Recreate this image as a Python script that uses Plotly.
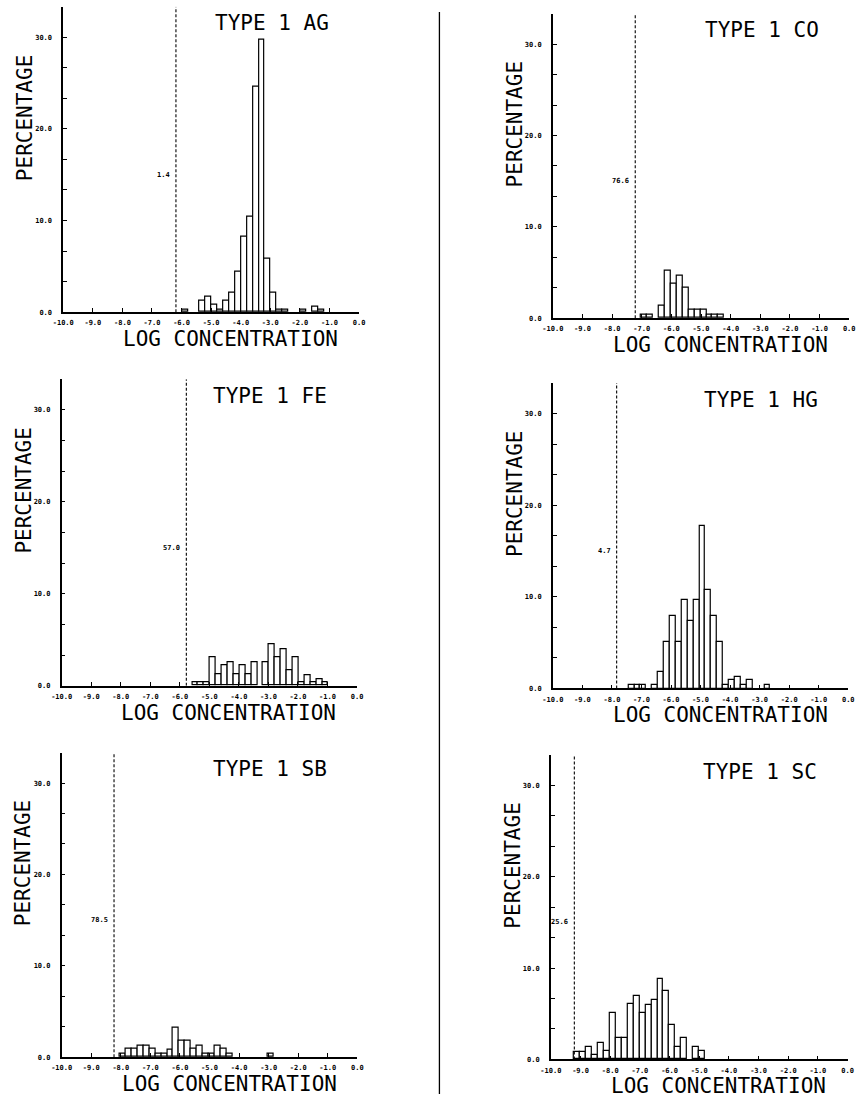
import plotly.graph_objects as go

# ---------------- data ----------------
bin_width = 0.2  # log-concentration bin width

titles = ["TYPE 1 AG", "TYPE 1 CO", "TYPE 1 FE", "TYPE 1 HG", "TYPE 1 SB", "TYPE 1 SC"]

# detection limits (dashed lines, log concentration) - histogram bins start here
detection_limits = [-6.19, -7.22, -5.78, -7.84, -8.23, -9.21]

# percentage below detection limit (text beside dashed line)
below_limit_labels = ["1.4", "76.6", "57.0", "4.7", "78.5", "25.6"]

ag_pct = [0, 0.3, 0, 0, 1.2, 1.7, 0.8, 0.3, 1.2, 2.1, 4.4, 8.2, 10.4, 24.6, 29.7,
          5.8, 2.1, 0.3, 0.3, 0, 0, 0.3, 0, 0.6, 0.3]
co_pct = [0, 0.4, 0.4, 0, 1.4, 5.2, 3.8, 4.6, 3.3, 0.9, 0.9, 0.9, 0.4, 0.4, 0.4]
fe_pct = [0, 0.35, 0.35, 0.35, 3.1, 1.25, 2.2, 2.6, 1.25, 2.2, 1.3, 2.6, 0, 2.6,
          4.5, 3.1, 4.0, 1.7, 3.1, 0.35, 1.15, 0.35, 0.7, 0.35]
hg_pct = [0, 0, 0.4, 0.4, 0.4, 0, 0.4, 1.8, 5.1, 7.9, 5.1, 9.7, 7.4, 9.7, 17.7,
          10.7, 7.9, 5.1, 0.4, 0.95, 1.3, 0.4, 0.95, 0, 0, 0.4]
sb_pct = [0, 0.4, 0.9, 0.9, 1.3, 1.3, 0.9, 0.4, 0.4, 0.85, 3.2, 1.8, 1.8, 0.9, 1.3,
          0.4, 0.4, 1.3, 0.9, 0.4, 0, 0, 0, 0, 0, 0, 0.35]
sc_pct = [0.8, 0.8, 1.35, 0.45, 1.8, 0.9, 5.1, 2.3, 2.3, 6.1, 6.9, 5.1, 6.0, 6.5,
          8.8, 7.45, 3.75, 1.35, 2.35, 0, 1.35, 0.9]

series = [ag_pct, co_pct, fe_pct, hg_pct, sb_pct, sc_pct]

x_ticks = [-10, -9, -8, -7, -6, -5, -4, -3, -2, -1, 0]
x_ticktext = ["-10.0", "-9.0", "-8.0", "-7.0", "-6.0", "-5.0", "-4.0", "-3.0", "-2.0", "-1.0", "0.0"]
y_ticks = [0, 10/3, 20/3, 10, 40/3, 50/3, 20, 70/3, 80/3, 30]
y_ticktext = ["0.0", "", "", "10.0", "", "", "20.0", "", "", "30.0"]
y_max = 100/3

# ---------------- layout geometry (pixels) ----------------
W, H = 866, 1098
# (left, right, top, bottom) of each plot area in pixels
boxes = [
    (53.3, 355.0, 6.7, 313.3),
    (552.7, 855.0, 13.8, 319.3),
    (51.7, 353.0, 380.7, 688.3),
    (552.7, 854.0, 384.3, 691.0),
    (51.7, 353.3, 755.4, 1061.0),
    (550.7, 853.3, 757.7, 1063.3),
]

MONO = "DejaVu Sans Mono"
fig = go.Figure()
layout = dict(
    width=W, height=H, margin=dict(l=0, r=0, t=0, b=0),
    paper_bgcolor="white", plot_bgcolor="white", showlegend=False,
    bargap=0,
)
annotations = []
shapes = []

for i, (title, dl, lab, vals, box) in enumerate(zip(titles, detection_limits, below_limit_labels, series, boxes)):
    n = i + 1
    xa = "x" if n == 1 else f"x{n}"
    ya = "y" if n == 1 else f"y{n}"
    l, r, t, b = box
    centers = [dl + bin_width * (k + 0.5) for k in range(len(vals))]
    shown = [v if v > 0 else None for v in vals]  # empty bins draw nothing
    fig.add_trace(go.Bar(
        x=centers, y=shown, width=bin_width,
        marker=dict(color="white", line=dict(color="black", width=1.2)),
        xaxis=xa, yaxis=ya, hoverinfo="skip", showlegend=False,
    ))
    layout["xaxis" if n == 1 else f"xaxis{n}"] = dict(
        domain=[l / W, r / W], anchor=ya, range=[-10, 0],
        tickmode="array", tickvals=x_ticks, ticktext=x_ticktext,
        ticks="inside", ticklen=4, tickwidth=1.3, tickcolor="black",
        showline=True, linecolor="black", linewidth=1.6,
        showgrid=False, zeroline=False, fixedrange=True,
        tickfont=dict(family=MONO, size=7, color="black", weight="bold"),
        ticklabelstandoff=3,
    )
    layout["yaxis" if n == 1 else f"yaxis{n}"] = dict(
        domain=[1 - b / H, 1 - t / H], anchor=xa, range=[0, y_max],
        tickmode="array", tickvals=y_ticks, ticktext=y_ticktext,
        ticks="inside", ticklen=4, tickwidth=1.3, tickcolor="black",
        showline=True, linecolor="black", linewidth=1.6,
        showgrid=False, zeroline=False, fixedrange=True,
        tickfont=dict(family=MONO, size=7, color="black", weight="bold"),
        ticklabelstandoff=8,
    )
    # dashed detection-limit line
    shapes.append(dict(type="line", xref=xa, yref=ya, x0=dl, x1=dl, y0=0, y1=y_max,
                       line=dict(color="black", width=1.1, dash="3px,2px")))
    # label beside dashed line
    annotations.append(dict(xref=xa, yref=ya, x=dl, y=15, text=lab, showarrow=False,
                            xanchor="right", yanchor="middle", xshift=-4,
                            font=dict(family=MONO, size=7, color="black", weight="bold")))
    # panel title
    annotations.append(dict(xref=xa, yref=ya, x=-2.95, y=31.5, text=title, showarrow=False,
                            xanchor="center", yanchor="middle",
                            font=dict(family=MONO, size=21, color="black")))
    # y-axis title
    annotations.append(dict(xref=f"{xa} domain", yref=ya, x=0, y=21.2, xshift=-38,
                            text="PERCENTAGE", textangle=-90, showarrow=False,
                            xanchor="center", yanchor="middle",
                            font=dict(family=MONO, size=21, color="black")))
    # x-axis title
    annotations.append(dict(xref=xa, yref=f"{ya} domain", x=-4.34, y=0, yshift=-27,
                            text="LOG CONCENTRATION", showarrow=False,
                            xanchor="center", yanchor="middle",
                            font=dict(family=MONO, size=21, color="black")))

# central divider
shapes.append(dict(type="line", xref="paper", yref="paper", x0=437 / W, x1=437 / W,
                   y0=0, y1=1 - 12 / H, line=dict(color="black", width=1.3)))

layout["annotations"] = annotations
layout["shapes"] = shapes
fig.update_layout(**layout)

fig.write_html("out.html", config={"displayModeBar": False},
               post_script="document.body.style.margin='0';")
